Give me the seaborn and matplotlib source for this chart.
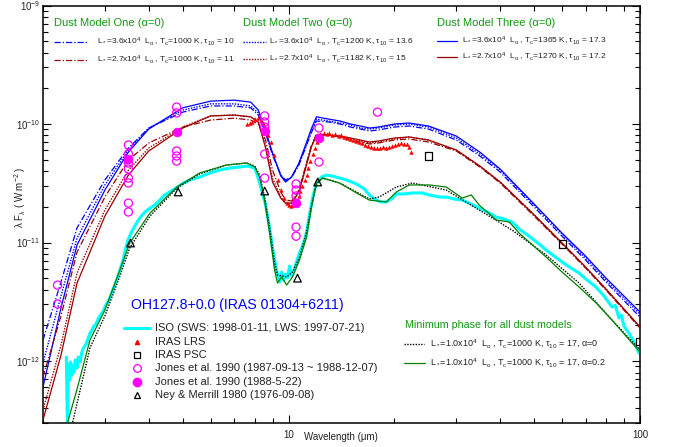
import matplotlib
matplotlib.use("Agg")
import matplotlib.pyplot as plt
from matplotlib.lines import Line2D
from matplotlib.ticker import NullFormatter
import seaborn as sns

# ---- dust model curves: wavelength (micron) and lambda*F_lambda (W m^-2)
lam_model = [2.0, 2.25, 2.5, 3.0, 3.5, 4.0, 5.0, 6.0, 7.0, 7.8, 8.2, 8.6, 9.0, 9.5, 9.8,
             10.2, 10.7, 11.2, 11.6, 12.0, 13, 14, 15, 16, 17, 18, 20, 22, 25, 30, 35,
             40, 50, 60, 70, 80, 100]

one_hi = [1.50e-12, 4.64e-12, 1.33e-11, 3.37e-11, 6.27e-11, 9.25e-11, 1.26e-10, 1.42e-10,
          1.42e-10, 1.37e-10, 1.19e-10, 8.39e-11, 5.47e-11, 3.71e-11, 3.37e-11, 3.57e-11,
          4.51e-11, 6.40e-11, 8.39e-11, 1.06e-10, 1.04e-10, 1.00e-10, 9.43e-11, 9.07e-11,
          8.73e-11, 8.90e-11, 9.43e-11, 9.62e-11, 9.07e-11, 7.33e-11, 5.37e-11, 3.93e-11,
          1.99e-11, 1.13e-11, 7.12e-12, 4.64e-12, 2.35e-12]
one_lo = [7.33e-13, 2.40e-12, 8.31e-12, 2.42e-11, 4.97e-11, 6.91e-11, 9.43e-11, 1.08e-10,
          1.12e-10, 1.08e-10, 1.00e-10, 7.33e-11, 4.09e-11, 2.67e-11, 2.28e-11, 2.24e-11,
          2.77e-11, 4.51e-11, 6.52e-11, 8.23e-11, 8.07e-11, 7.77e-11, 7.33e-11, 7.05e-11,
          6.78e-11, 6.91e-11, 7.33e-11, 7.47e-11, 7.05e-11, 5.92e-11, 4.34e-11, 3.18e-11,
          1.67e-11, 9.71e-12, 6.09e-12, 3.97e-12, 1.90e-12]
two_hi = [9.62e-13, 3.54e-12, 1.09e-11, 3.06e-11, 6.03e-11, 9.25e-11, 1.31e-10, 1.48e-10,
          1.48e-10, 1.42e-10, 1.24e-10, 8.56e-11, 5.58e-11, 3.71e-11, 3.30e-11, 3.57e-11,
          4.60e-11, 6.52e-11, 8.73e-11, 1.10e-10, 1.06e-10, 1.02e-10, 9.81e-11, 9.25e-11,
          9.07e-11, 9.25e-11, 9.81e-11, 1.00e-10, 9.43e-11, 7.62e-11, 5.58e-11, 4.09e-11,
          2.07e-11, 1.18e-11, 7.40e-12, 4.83e-12, 2.49e-12]
two_lo = [3.86e-13, 1.36e-12, 5.53e-12, 1.88e-11, 4.09e-11, 6.27e-11, 9.43e-11, 1.17e-10,
          1.19e-10, 1.15e-10, 1.04e-10, 6.52e-11, 3.50e-11, 2.42e-11, 2.15e-11, 2.15e-11,
          2.67e-11, 4.34e-11, 6.40e-11, 8.07e-11, 8.07e-11, 7.77e-11, 7.47e-11, 7.19e-11,
          6.91e-11, 7.05e-11, 7.47e-11, 7.77e-11, 7.33e-11, 6.03e-11, 4.42e-11, 3.24e-11,
          1.71e-11, 9.90e-12, 6.21e-12, 4.05e-12, 1.94e-12]
three_hi = [6.03e-13, 2.80e-12, 9.53e-12, 2.77e-11, 5.80e-11, 9.07e-11, 1.37e-10, 1.56e-10,
            1.59e-10, 1.53e-10, 1.31e-10, 8.73e-11, 5.69e-11, 3.64e-11, 3.24e-11, 3.57e-11,
            4.69e-11, 6.78e-11, 9.07e-11, 1.15e-10, 1.10e-10, 1.06e-10, 1.00e-10, 9.62e-11,
            9.25e-11, 9.43e-11, 1.00e-10, 1.02e-10, 9.62e-11, 7.92e-11, 5.80e-11, 4.17e-11,
            2.11e-11, 1.20e-11, 7.69e-12, 5.02e-12, 2.59e-12]
three_lo = [3.18e-13, 1.12e-12, 4.55e-12, 1.67e-11, 3.71e-11, 5.92e-11, 9.25e-11, 1.17e-10,
            1.19e-10, 1.15e-10, 1.04e-10, 6.27e-11, 3.24e-11, 2.37e-11, 2.15e-11, 2.15e-11,
            2.67e-11, 4.34e-11, 6.40e-11, 8.07e-11, 8.07e-11, 7.92e-11, 7.62e-11, 7.33e-11,
            7.05e-11, 7.19e-11, 7.62e-11, 7.77e-11, 7.33e-11, 6.03e-11, 4.42e-11, 3.24e-11,
            1.71e-11, 9.90e-12, 6.21e-12, 4.05e-12, 1.94e-12]

# ---- minimum phase models
lam_min_a0 = [2.42, 2.72, 3.0, 3.31, 3.53, 4.03, 4.81, 5.58, 6.66, 7.6, 8.01, 8.27, 8.54,
              8.83, 9.12, 9.3, 9.87, 10.26, 10.74, 11.25, 11.62, 12.0, 12.5, 13.96, 15.6,
              16.98, 18.1, 20.26, 22.5, 28.1, 34.87, 43.3, 54.06, 67.1, 83.2, 100]
min_a0 = [2.90e-13, 1.29e-12, 2.40e-12, 5.22e-12, 8.99e-12, 1.67e-11, 2.88e-11, 3.79e-11,
          4.51e-11, 4.69e-11, 4.42e-11, 3.71e-11, 2.42e-11, 1.33e-11, 6.85e-12, 5.32e-12,
          5.12e-12, 5.64e-12, 7.54e-12, 1.23e-11, 2.07e-11, 3.12e-11, 3.50e-11, 3.18e-11,
          2.67e-11, 2.33e-11, 2.42e-11, 2.94e-11, 3.18e-11, 2.77e-11, 1.88e-11, 1.27e-11,
          7.84e-12, 4.55e-12, 2.22e-12, 1.24e-12]
lam_min_a2 = [2.34, 2.5, 2.72, 3.0, 3.31, 3.53, 4.03, 4.81, 5.58, 6.66, 7.6, 8.01, 8.27,
              8.54, 8.83, 9.12, 9.3, 9.55, 9.87, 10.26, 10.74, 11.25, 11.62, 12.0, 12.5,
              13.96, 15.6, 16.98, 18.97, 20.26, 22.07, 25.15, 28.1, 31.2, 33.1, 34.87,
              38.98, 42.45, 45.31, 54.06, 60.0, 67.1, 75.0, 83.2, 100]
min_a2 = [2.90e-13, 5.80e-13, 1.50e-12, 2.69e-12, 5.86e-12, 9.90e-12, 1.77e-11, 2.94e-11,
          3.86e-11, 4.51e-11, 4.69e-11, 4.34e-11, 3.57e-11, 2.28e-11, 1.20e-11, 5.86e-12,
          4.55e-12, 5.12e-12, 4.38e-12, 5.12e-12, 7.12e-12, 1.11e-11, 1.99e-11, 3.18e-11,
          3.50e-11, 3.18e-11, 2.62e-11, 2.28e-11, 2.20e-11, 2.67e-11, 3.06e-11, 3.06e-11,
          2.94e-11, 2.37e-11, 2.52e-11, 2.07e-11, 1.55e-11, 1.49e-11, 1.20e-11, 7.54e-12,
          5.64e-12, 4.21e-12, 3.09e-12, 2.22e-12, 1.19e-12]

# ---- ISO SWS+LWS spectrum
lam_iso = [2.33, 2.34, 2.35, 2.36, 2.38, 2.39, 2.42, 2.43, 2.45, 2.47, 2.50, 2.52, 2.55,
           2.58, 2.61, 2.65, 2.69, 2.72, 2.76, 2.79, 2.83, 2.87, 2.90, 2.96, 3.02, 3.06,
           3.10, 3.16, 3.20, 3.25, 3.31, 3.38, 3.42, 3.49, 3.56, 3.65, 3.77, 3.90, 4.03,
           4.16, 4.30, 4.44, 4.59, 4.78, 4.97, 5.23, 5.59, 5.96, 6.37, 6.80, 7.26, 7.65,
           8.00, 8.16, 8.38, 8.60, 8.83, 9.00, 9.18, 9.30, 9.43, 9.55, 9.68, 9.80, 9.93,
           10.06, 10.20, 10.33, 10.53, 10.74, 11.03, 11.25, 11.47, 11.70, 11.93, 12.17,
           12.41, 12.82, 13.33, 13.96, 14.61, 15.60, 16.43, 16.98, 17.54, 18.25, 18.97,
           19.61, 20.26, 21.35, 22.50, 24.02, 25.14, 26.85, 28.11, 29.61, 31.2, 33.1,
           34.86, 36.74, 38.97, 41.06, 43.27, 45.31, 48.37, 51.64, 54.06, 56.95, 60.0,
           63.65, 67.07, 70.67, 74.96, 78.98, 83.22, 85.0, 87.13, 88.5, 90.03, 93.0, 96.1,
           99.3]
flux_iso = [1.08e-12, 4.69e-13, 2.80e-13, 9.25e-13, 6.91e-13, 9.81e-13, 7.62e-13, 9.25e-13,
            8.07e-13, 1.02e-12, 8.73e-13, 1.08e-12, 9.81e-13, 1.19e-12, 1.29e-12, 1.39e-12,
            1.56e-12, 1.72e-12, 1.83e-12, 1.97e-12, 2.05e-12, 2.26e-12, 2.40e-12, 2.59e-12,
            2.97e-12, 3.15e-12, 3.40e-12, 3.97e-12, 4.38e-12, 4.92e-12, 5.86e-12, 7.12e-12,
            8.31e-12, 1.05e-11, 1.20e-11, 1.38e-11, 1.61e-11, 1.81e-11, 1.95e-11, 2.07e-11,
            2.28e-11, 2.52e-11, 2.67e-11, 2.88e-11, 3.12e-11, 3.37e-11, 3.57e-11, 3.86e-11,
            4.09e-11, 4.25e-11, 4.34e-11, 4.42e-11, 4.25e-11, 3.64e-11, 2.77e-11, 2.07e-11,
            1.33e-11, 8.99e-12, 6.46e-12, 5.32e-12, 4.64e-12, 5.64e-12, 4.83e-12, 5.42e-12,
            5.02e-12, 6.33e-12, 5.22e-12, 5.64e-12, 6.85e-12, 8.15e-12, 9.90e-12, 1.23e-11,
            1.71e-11, 2.37e-11, 3.00e-11, 3.37e-11, 3.57e-11, 3.71e-11, 3.64e-11, 3.50e-11,
            3.37e-11, 3.12e-11, 2.83e-11, 2.52e-11, 2.33e-11, 2.20e-11, 2.20e-11, 2.33e-11,
            2.57e-11, 2.57e-11, 2.62e-11, 2.62e-11, 2.52e-11, 2.42e-11, 2.42e-11, 2.33e-11,
            2.28e-11, 2.11e-11, 1.95e-11, 1.81e-11, 1.64e-11, 1.58e-11, 1.49e-11, 1.30e-11,
            1.13e-11, 9.71e-12, 8.64e-12, 7.69e-12, 6.85e-12, 6.09e-12, 5.53e-12, 4.83e-12,
            4.21e-12, 3.54e-12, 2.86e-12, 2.95e-12, 2.31e-12, 2.45e-12, 1.97e-12, 1.72e-12,
            1.45e-12, 1.17e-12]

# ---- IRAS LRS
lam_lrs = [7.60, 7.75, 7.85, 8.00, 8.16, 8.32, 8.43, 8.54, 8.71, 8.89, 9.06, 9.30, 9.49,
           9.68, 9.87, 10.0, 10.13, 10.26, 10.40, 10.53, 10.67, 10.81, 10.95, 11.10, 11.25,
           11.39, 11.54, 11.70, 11.85, 12.01, 12.17, 12.32, 12.57, 12.82, 13.07, 13.33,
           13.59, 13.87, 14.14, 14.42, 14.70, 15.00, 15.29, 15.60, 15.91, 16.22, 16.54,
           16.87, 17.20, 17.54, 17.88, 18.25, 18.61, 18.97, 19.35, 19.73, 20.13, 20.53,
           20.93, 21.35, 21.77, 22.06, 22.35]
flux_lrs = [1.00e-10, 1.02e-10, 1.04e-10, 1.10e-10, 1.12e-10, 1.08e-10, 1.02e-10, 9.43e-11,
            8.07e-11, 7.05e-11, 5.47e-11, 3.37e-11, 2.77e-11, 2.37e-11, 2.15e-11, 2.07e-11,
            2.03e-11, 2.07e-11, 2.11e-11, 2.28e-11, 2.47e-11, 2.72e-11, 3.00e-11, 3.37e-11,
            3.71e-11, 4.25e-11, 4.87e-11, 5.58e-11, 6.27e-11, 7.05e-11, 7.77e-11, 8.23e-11,
            8.39e-11, 8.23e-11, 8.39e-11, 8.07e-11, 8.23e-11, 7.92e-11, 8.07e-11, 7.77e-11,
            7.62e-11, 7.47e-11, 7.33e-11, 7.19e-11, 7.05e-11, 6.91e-11, 6.65e-11, 6.52e-11,
            6.40e-11, 6.27e-11, 6.27e-11, 6.27e-11, 6.40e-11, 6.27e-11, 6.40e-11, 6.52e-11,
            6.65e-11, 6.78e-11, 6.91e-11, 6.78e-11, 6.78e-11, 6.40e-11, 5.80e-11]

# ---- IRAS PSC
lam_psc = [25, 60, 100]
flux_psc = [5.37e-11, 9.71e-12, 1.47e-12]

# ---- Jones et al. 1990 photometry
lam_jones = [2.2, 2.2, 3.5, 3.5, 3.5, 3.5, 3.5, 3.5, 3.5, 3.5, 4.8, 4.8, 4.8, 4.8, 4.8,
             8.55, 8.55, 8.55, 8.55, 8.55, 10.5, 10.5, 10.5, 10.5, 10.5, 12.2, 12.2, 17.9]
flux_jones = [4.37e-12, 3.03e-12, 6.65e-11, 5.58e-11, 4.69e-11, 4.17e-11, 3.50e-11,
              3.18e-11, 2.15e-11, 1.81e-11, 1.39e-10, 1.24e-10, 5.92e-11, 5.37e-11,
              4.87e-11, 1.17e-10, 1.04e-10, 9.43e-11, 5.58e-11, 3.50e-11, 3.12e-11,
              2.77e-11, 2.47e-11, 1.35e-11, 1.13e-11, 9.25e-11, 4.78e-11, 1.26e-10]
lam_jones88 = [3.5, 4.8, 8.55, 10.5, 12.2]
flux_jones88 = [5.07e-11, 8.56e-11, 8.73e-11, 2.15e-11, 7.62e-11]

# ---- Ney & Merrill 1980
lam_ney = [3.55, 4.85, 8.55, 10.6, 12.1]
flux_ney = [9.90e-12, 2.67e-11, 2.72e-11, 5.00e-12, 3.24e-11]

blue = "#0000ff"
brown = "#990000"
green = "#119911"
dashdot = (0, (5, 1.6, 1, 1.6))
dotted = (0, (1, 1))

sns.set_theme(style="ticks")
plt.rcParams["font.family"] = ["Liberation Sans", "DejaVu Sans"]
plt.rcParams["mathtext.fontset"] = "custom"
plt.rcParams["mathtext.rm"] = "Liberation Sans"
plt.rcParams["mathtext.it"] = "Liberation Sans:italic"
plt.rcParams["mathtext.default"] = "regular"

W, H = 675, 447
fig = plt.figure(figsize=(6.75, 4.47), dpi=100)
ax = fig.add_axes([43 / W, 1 - 423 / H, 597 / W, 417.5 / H])


def curve(x, y, **kw):
    sns.lineplot(x=x, y=y, ax=ax, estimator=None, sort=False, legend=False, **kw)


curve(lam_iso, flux_iso, color="cyan", lw=2.2, zorder=2)
curve(lam_min_a0, min_a0, color="black", lw=1.0, linestyle=dotted, zorder=3)
curve(lam_min_a2, min_a2, color="green", lw=0.9, zorder=3)

curve(lam_model, one_hi, color=blue, lw=0.9, linestyle=dashdot, zorder=3)
curve(lam_model, two_hi, color=blue, lw=1.0, linestyle=dotted, zorder=3)
curve(lam_model, three_hi, color=blue, lw=0.9, zorder=3)
curve(lam_model, one_lo, color=brown, lw=0.9, linestyle=dashdot, zorder=3)
curve(lam_model, two_lo, color=brown, lw=1.0, linestyle=dotted, zorder=3)
curve(lam_model, three_lo, color=brown, lw=0.9, zorder=3)

sns.scatterplot(x=lam_lrs, y=flux_lrs, ax=ax, marker="^", s=10, color="red",
                linewidth=0, legend=False, zorder=5)
sns.scatterplot(x=lam_psc, y=flux_psc, ax=ax, marker="s", s=26, color="black",
                facecolor="none", edgecolor="black", linewidth=0.9, legend=False, zorder=5)
sns.scatterplot(x=lam_jones, y=flux_jones, ax=ax, marker="o", s=34, color="magenta",
                facecolor="none", edgecolor="magenta", linewidth=0.9, legend=False, zorder=5)
sns.scatterplot(x=lam_jones88, y=flux_jones88, ax=ax, marker="o", s=40, color="magenta",
                edgecolor="magenta", linewidth=0.5, legend=False, zorder=5)
sns.scatterplot(x=lam_ney, y=flux_ney, ax=ax, marker="^", s=30, color="black",
                facecolor="none", edgecolor="black", linewidth=0.9, legend=False, zorder=5)

ax.set_xscale("log")
ax.set_yscale("log")
ax.set_xlim(2, 100)
ax.set_ylim(3e-13, 1e-9)
ax.set_xticks([10, 100])
ax.set_xticklabels(["10", "100"])
ax.xaxis.set_minor_formatter(NullFormatter())
ax.yaxis.set_minor_formatter(NullFormatter())
ax.xaxis.label.set_visible(False)
ax.yaxis.label.set_visible(False)
ax.xaxis.offsetText.set_visible(False)
ax.yaxis.offsetText.set_visible(False)
ax.tick_params(which="both", direction="in", top=True, right=True, width=0.8,
               color="black", labelsize=7, labelcolor="#222222")
ax.tick_params(which="major", length=6)
ax.tick_params(which="minor", length=3.5)
ax.tick_params(axis="x", pad=5)
ax.tick_params(axis="y", pad=2)
for sp in ax.spines.values():
    sp.set_linewidth(1.1)
    sp.set_color("black")


def fx(px):
    return px / W


def fy(py):
    return 1 - py / H


def key(x0, x1, y, **kw):
    fig.add_artist(Line2D([fx(x0), fx(x1)], [fy(y), fy(y)], transform=fig.transFigure, **kw))


def label(x, y, s, size=6, color="#222222", **kw):
    fig.text(fx(x), fy(y), s, fontsize=size, color=color, ha="left", va="center", **kw)


# axis titles
fig.text(fx(20), fy(197), "λ F$_λ$ ( W m$^{-2}$ )", rotation=90, ha="center",
         va="center", fontsize=7, color="#222222")
label(304, 437, "Wavelength (μm)", size=7)

# top legends: three dust models
titles = ["Dust Model One (α=0)", "Dust Model Two (α=0)", "Dust Model Three (α=0)"]
model_rows = [
    [r"L$_*$=3.6x10$^4$  L$_o$ , T$_c$=1000 K, τ$_{10}$ = 10",
     r"L$_*$=2.7x10$^4$  L$_o$ , T$_c$=1000 K, τ$_{10}$ = 11"],
    [r"L$_*$=3.6x10$^4$  L$_o$ , T$_c$=1200 K, τ$_{10}$ = 13.6",
     r"L$_*$=2.7x10$^4$  L$_o$ , T$_c$=1182 K, τ$_{10}$ = 15"],
    [r"L$_*$=3.6x10$^4$  L$_o$ , T$_c$=1365 K, τ$_{10}$ = 17.3",
     r"L$_*$=2.7x10$^4$  L$_o$ , T$_c$=1270 K, τ$_{10}$ = 17.2"],
]
styles = [dict(ls=dashdot, lw=0.9), dict(ls=dotted, lw=1.0), dict(ls="-", lw=0.9)]
col_x = [(54, 87, 97), (243, 266, 269), (437, 457, 462)]
row_y = [(42, 60), (42, 59), (41, 57)]
for i in range(3):
    x0, x1, xt = col_x[i]
    label(x0, 23, titles[i], size=8, color=green)
    for j, c in enumerate([blue, brown]):
        key(x0, x1, row_y[i][j], color=c, **styles[i])
        label(xt, row_y[i][j], model_rows[i][j])

# bottom-left legend: observations
label(131, 305, "OH127.8+0.0 (IRAS 01304+6211)", size=10.2, color=blue)
key(124, 150, 328, color="cyan", lw=2.2)
obs_y = [342, 355, 368, 382, 395]
fig.add_artist(Line2D([fx(137)], [fy(obs_y[0])], transform=fig.transFigure, marker="^",
                      ms=3, color="red", ls="none"))
fig.add_artist(Line2D([fx(137)], [fy(obs_y[1])], transform=fig.transFigure, marker="s",
                      ms=5, mfc="none", mec="black", mew=0.9, ls="none"))
fig.add_artist(Line2D([fx(137)], [fy(obs_y[2])], transform=fig.transFigure, marker="o",
                      ms=5.5, mfc="none", mec="magenta", mew=0.9, ls="none"))
fig.add_artist(Line2D([fx(137)], [fy(obs_y[3])], transform=fig.transFigure, marker="o",
                      ms=6, color="magenta", ls="none"))
fig.add_artist(Line2D([fx(137)], [fy(obs_y[4])], transform=fig.transFigure, marker="^",
                      ms=5, mfc="none", mec="black", mew=0.9, ls="none"))
obs_labels = ["ISO (SWS: 1998-01-11, LWS: 1997-07-21)", "IRAS LRS", "IRAS PSC",
              "Jones et al. 1990 (1987-09-13 ~ 1988-12-07)", "Jones et al. 1990 (1988-5-22)",
              "Ney & Merrill 1980 (1976-09-08)"]
for yy, s in zip([328] + obs_y, obs_labels):
    label(155, yy, s, size=8)

# bottom-right legend: minimum phase
label(405, 325, "Minimum phase for all dust models", size=7.7, color=green)
key(404, 424, 344, color="black", ls=dotted, lw=1.0)
key(404, 425, 363, color="green", lw=0.9)
label(430, 344, r"L$_*$=1.0x10$^4$  L$_o$ , T$_c$=1000 K, τ$_{10}$ = 17, α=0", size=6.5)
label(430, 363, r"L$_*$=1.0x10$^4$  L$_o$ , T$_c$=1000 K, τ$_{10}$ = 17, α=0.2", size=6.5)

fig.savefig("out.png", dpi=100, facecolor="white")
